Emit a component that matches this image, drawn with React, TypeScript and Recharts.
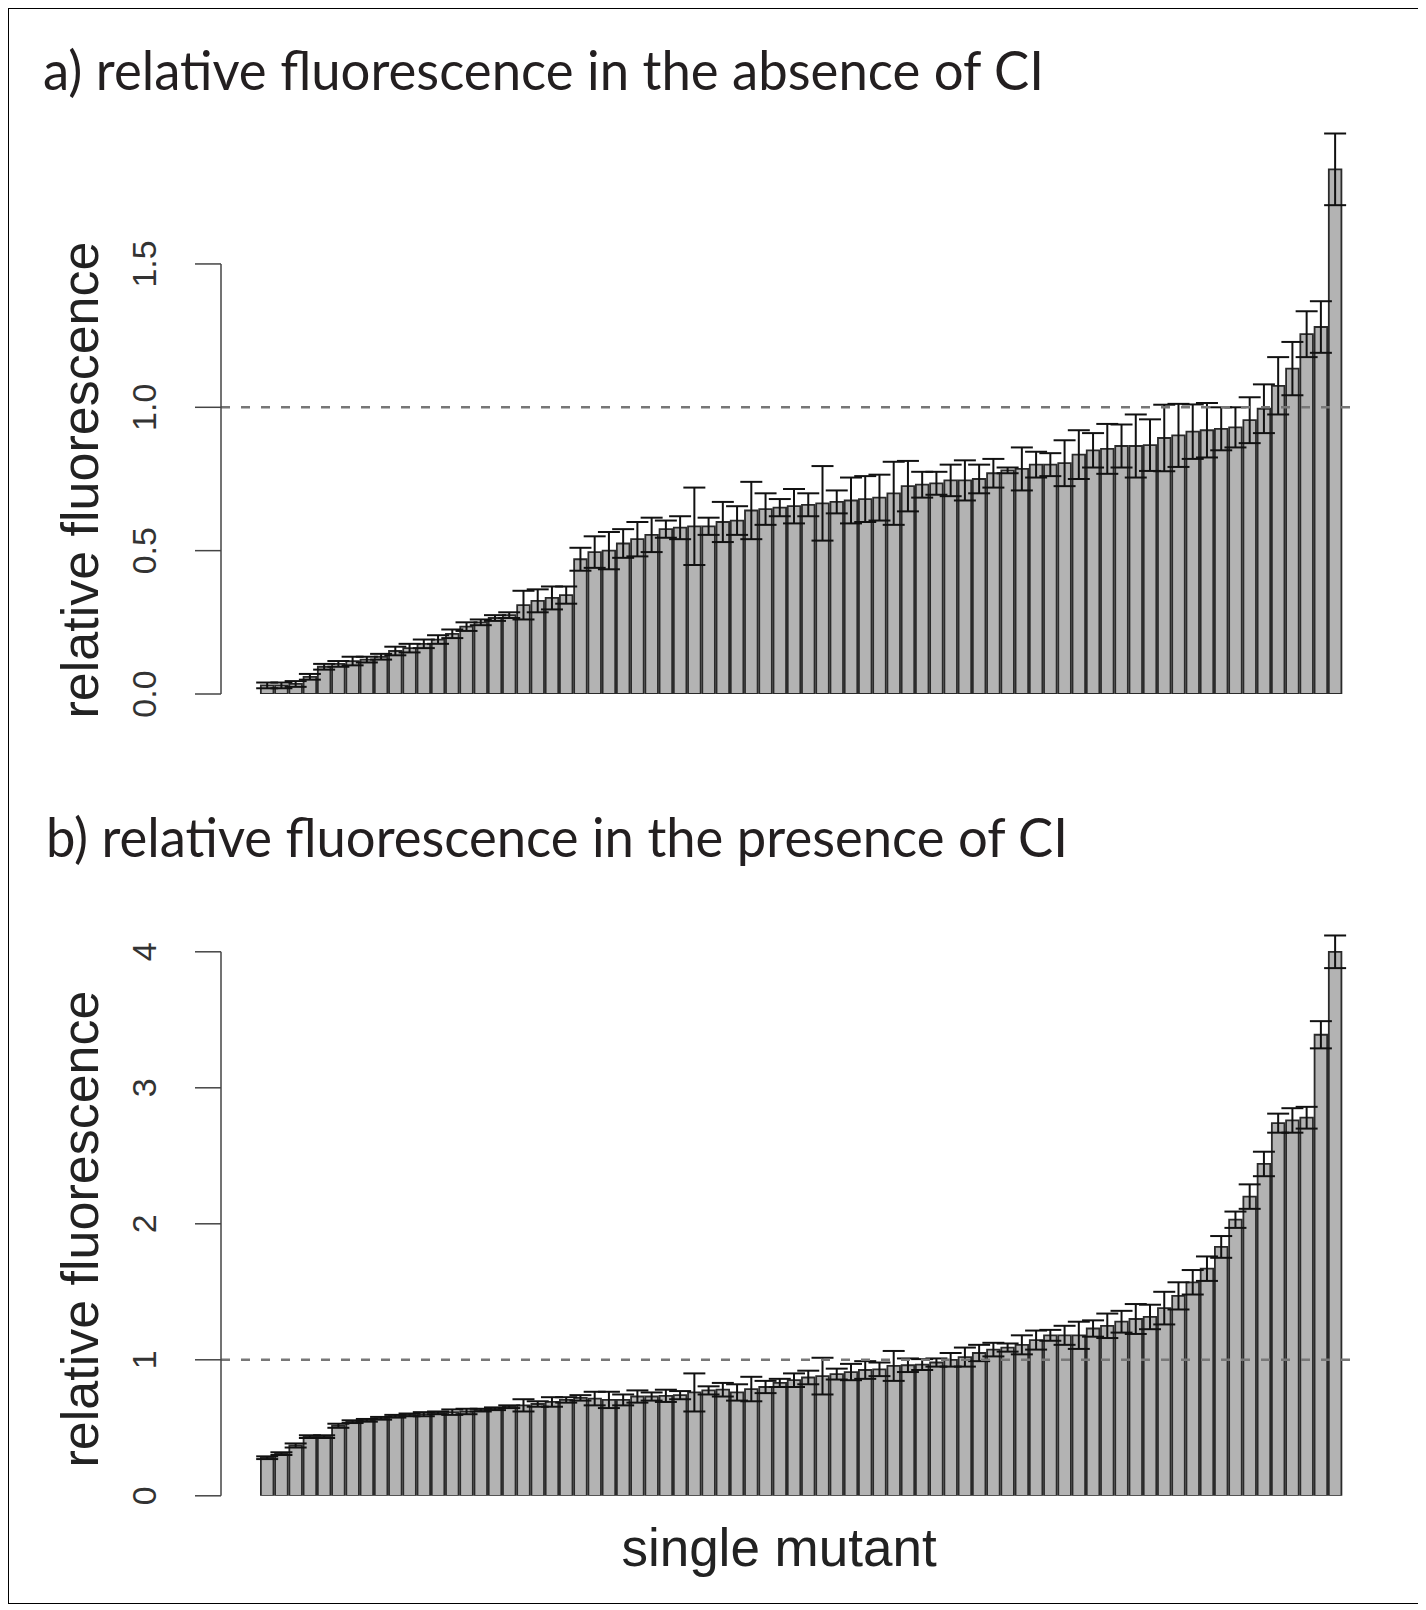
import React from 'react';
import { BarChart, Bar, XAxis, YAxis, ErrorBar, ReferenceLine } from 'recharts';

// ---- data ----
const absenceValues = [
  0.03, 0.03, 0.035, 0.06, 0.095, 0.105, 0.115, 0.12, 0.13, 0.15,
  0.16, 0.175, 0.19, 0.21, 0.235, 0.25, 0.265, 0.275, 0.31, 0.325,
  0.335, 0.345, 0.47, 0.495, 0.5, 0.525, 0.54, 0.555, 0.575, 0.58,
  0.585, 0.585, 0.6, 0.605, 0.64, 0.645, 0.65, 0.655, 0.66, 0.665,
  0.67, 0.675, 0.68, 0.685, 0.7, 0.725, 0.73, 0.735, 0.745, 0.745,
  0.75, 0.77, 0.78, 0.785, 0.8, 0.8, 0.805, 0.835, 0.85, 0.855,
  0.865, 0.865, 0.868, 0.893, 0.902, 0.915, 0.92, 0.925, 0.93, 0.955,
  0.995, 1.075, 1.135, 1.255, 1.28, 1.83,
];
const absenceErrors = [
  0.01, 0.01, 0.01, 0.01, 0.01, 0.01, 0.015, 0.01, 0.01, 0.015,
  0.015, 0.015, 0.015, 0.015, 0.015, 0.01, 0.01, 0.01, 0.05, 0.04,
  0.04, 0.03, 0.04, 0.055, 0.065, 0.05, 0.06, 0.06, 0.03, 0.04,
  0.135, 0.03, 0.07, 0.05, 0.1, 0.055, 0.03, 0.06, 0.04, 0.13,
  0.04, 0.08, 0.08, 0.08, 0.11, 0.088, 0.045, 0.04, 0.055, 0.07,
  0.05, 0.05, 0.01, 0.075, 0.045, 0.04, 0.08, 0.085, 0.06, 0.087,
  0.075, 0.11, 0.09, 0.116, 0.11, 0.095, 0.095, 0.075, 0.07, 0.08,
  0.085, 0.1, 0.093, 0.08, 0.09, 0.125,
];
const presenceValues = [
  0.28, 0.31, 0.37, 0.435, 0.435, 0.515, 0.545, 0.555, 0.57, 0.585,
  0.595, 0.6, 0.61, 0.615, 0.62, 0.63, 0.64, 0.655, 0.665, 0.675,
  0.69, 0.705, 0.72, 0.715, 0.705, 0.705, 0.73, 0.73, 0.735, 0.74,
  0.76, 0.775, 0.78, 0.76, 0.785, 0.8, 0.83, 0.85, 0.87, 0.88,
  0.895, 0.91, 0.925, 0.93, 0.955, 0.96, 0.965, 0.98, 1.0, 1.02,
  1.05, 1.075, 1.09, 1.11, 1.145, 1.18, 1.18, 1.18, 1.23, 1.25,
  1.28, 1.3, 1.315, 1.38, 1.47, 1.57, 1.67, 1.83, 2.03, 2.2,
  2.44, 2.74, 2.76, 2.78, 3.39, 4.0,
];
const presenceErrors = [
  0.01, 0.01, 0.015, 0.01, 0.01, 0.015, 0.01, 0.01, 0.01, 0.01,
  0.01, 0.015, 0.01, 0.02, 0.02, 0.01, 0.01, 0.01, 0.045, 0.02,
  0.035, 0.02, 0.02, 0.05, 0.06, 0.04, 0.045, 0.03, 0.045, 0.03,
  0.14, 0.03, 0.05, 0.06, 0.09, 0.045, 0.03, 0.05, 0.05, 0.135,
  0.04, 0.06, 0.065, 0.05, 0.11, 0.05, 0.04, 0.03, 0.05, 0.07,
  0.06, 0.05, 0.03, 0.07, 0.07, 0.04, 0.07, 0.1, 0.06, 0.09,
  0.08, 0.11, 0.09, 0.12, 0.1, 0.09, 0.09, 0.08, 0.06, 0.09,
  0.09, 0.07, 0.09, 0.08, 0.1, 0.12,
];

const absenceTicks = [0, 0.5, 1.0, 1.5];
const presenceTicks = [0, 1, 2, 3, 4];

const titleA = 'a) relative fluorescence in the absence of CI';
const titleB = 'b) relative fluorescence in the presence of CI';
const yLabel = 'relative fluorescence';
const xLabel = 'single mutant';

// ---- styling ----
const FONT_R = '"Liberation Sans", Arial, Helvetica, sans-serif';
const FONT_T = 'Lato, "Open Sans", "Noto Sans", sans-serif';
const X_DOMAIN: [number, number] = [-3.23, 76.76];

const rowsA = absenceValues.map((v, i) => ({ i, v, e: absenceErrors[i] }));
const rowsB = presenceValues.map((v, i) => ({ i, v, e: presenceErrors[i] }));

const RotTick = (props: any) => {
  const { x, y, payload, digits } = props;
  const label = digits ? Number(payload.value).toFixed(digits) : String(payload.value);
  return (
    <text
      x={x}
      y={y}
      transform={`rotate(-90 ${x} ${y})`}
      textAnchor="middle"
      dominantBaseline="central"
      fontFamily={FONT_R}
      fontSize={34}
      fill="#333"
    >
      {label}
    </text>
  );
};

function Panel(props: any) {
  const { rows, domainMax, ticks, digits, axisTop, top, height, marginTop, marginBottom } = props;
  return (
    <div style={{ position: 'absolute', left: 0, top }}>
      <BarChart
        width={1380}
        height={height}
        data={rows}
        margin={{ top: marginTop, right: 28, bottom: marginBottom, left: 0 }}
        barCategoryGap={0}
      >
        <XAxis type="number" dataKey="i" domain={X_DOMAIN} allowDataOverflow hide />
        <YAxis
          type="number"
          domain={[0, domainMax]}
          allowDataOverflow
          ticks={ticks}
          interval={0}
          width={213}
          axisLine={false}
          tickLine={{ stroke: '#444', strokeWidth: 1.5 }}
          tickSize={26}
          tickMargin={51}
          tick={(p: any) => <RotTick {...p} digits={digits} />}
        />
        <Bar
          dataKey="v"
          fill="#b3b3b3"
          stroke="#2a2a2a"
          strokeWidth={1.8}
          barSize={12.6}
          isAnimationActive={false}
        >
          <ErrorBar dataKey="e" width={11} stroke="#111" strokeWidth={2} direction="y" isAnimationActive={false} />
        </Bar>
        <ReferenceLine y={1} stroke="#777" strokeWidth={2.5} strokeDasharray="9 11" />
        <ReferenceLine
          segment={[{ x: X_DOMAIN[0], y: 0 }, { x: X_DOMAIN[0], y: axisTop }]}
          stroke="#444"
          strokeWidth={1.5}
          ifOverflow="visible"
        />
      </BarChart>
    </div>
  );
}

export default function App() {
  return (
    <div style={{ position: 'relative', width: 1411, height: 1596, background: '#fff' }}>
      <div
        style={{
          position: 'absolute',
          left: 0,
          top: 0,
          width: 1411,
          height: 1596,
          border: '1px solid #000',
          boxSizing: 'border-box',
        }}
      />
      <Panel
        rows={rowsA}
        domainMax={2.0}
        ticks={absenceTicks}
        digits={1}
        axisTop={1.5}
        top={92}
        height={634}
        marginTop={20.6}
        marginBottom={40}
      />
      <Panel
        rows={rowsB}
        domainMax={4.2}
        ticks={presenceTicks}
        digits={0}
        axisTop={4}
        top={892}
        height={636}
        marginTop={24.6}
        marginBottom={40.2}
      />
      <svg
        width={1411}
        height={1596}
        style={{ position: 'absolute', left: 0, top: 0, pointerEvents: 'none' }}
      >
        <text x={35} y={82} fontFamily={FONT_T} fontSize={54} fill="#231f20" textLength={1001} lengthAdjust="spacingAndGlyphs">
          {titleA}
        </text>
        <text x={38} y={849} fontFamily={FONT_T} fontSize={54} fill="#231f20" textLength={1022} lengthAdjust="spacingAndGlyphs">
          {titleB}
        </text>
        <text
          x={72}
          y={472}
          transform="rotate(-90 72 472)"
          textAnchor="middle"
          dominantBaseline="central"
          fontFamily={FONT_R}
          fontSize={52}
          fill="#222"
        >
          {yLabel}
        </text>
        <text
          x={72}
          y={1221}
          transform="rotate(-90 72 1221)"
          textAnchor="middle"
          dominantBaseline="central"
          fontFamily={FONT_R}
          fontSize={52}
          fill="#222"
        >
          {yLabel}
        </text>
        <text x={771} y={1558} textAnchor="middle" fontFamily={FONT_R} fontSize={53} fill="#222">
          {xLabel}
        </text>
      </svg>
    </div>
  );
}
